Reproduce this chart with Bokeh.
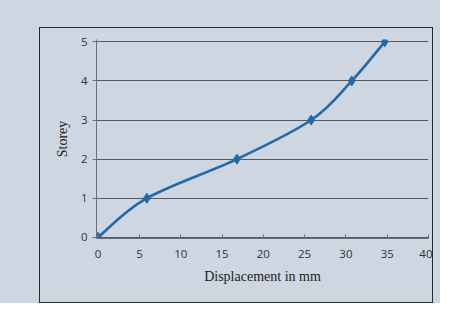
from bokeh.plotting import figure
from bokeh.models import Range1d, FixedTicker, Column, Row, Spacer
from bokeh.embed import file_html
from bokeh.resources import INLINE

# data
displacement = [0, 5.9, 16.8, 25.8, 30.7, 34.7]
storey = [0, 1, 2, 3, 4, 5]
x_ticks = [0, 5, 10, 15, 20, 25, 30, 35, 40]
y_ticks = [0, 1, 2, 3, 4, 5]

BG = "#cdd6e1"
BLUE = "#2369a8"

p = figure(width=394, height=276, output_backend="svg", toolbar_location=None,
           x_range=Range1d(-0.2, 40), y_range=Range1d(-0.03, 5.06),
           min_border_left=56, min_border_right=6, min_border_top=11, min_border_bottom=66)
p.background_fill_color = BG
p.border_fill_color = BG
p.outline_line_color = None
p.styles = {"border": "1.5px solid #2a2a2a"}

# smoothed line (Catmull-Rom style Bezier segments, as the spreadsheet draws it)
n = len(displacement)
x0, y0, x1, y1, cx0, cy0, cx1, cy1 = [], [], [], [], [], [], [], []
for i in range(n - 1):
    xa, ya = displacement[i], storey[i]
    xb, yb = displacement[i + 1], storey[i + 1]
    xp, yp = (displacement[i - 1], storey[i - 1]) if i > 0 else (xa, ya)
    xn, yn = (displacement[i + 2], storey[i + 2]) if i + 2 < n else (xb, yb)
    x0.append(xa); y0.append(ya); x1.append(xb); y1.append(yb)
    cx0.append(xa + (xb - xp) / 6); cy0.append(ya + (yb - yp) / 6)
    cx1.append(xb - (xn - xa) / 6); cy1.append(yb - (yn - ya) / 6)
p.bezier(x0=x0, y0=y0, x1=x1, y1=y1, cx0=cx0, cy0=cy0, cx1=cx1, cy1=cy1,
         line_color=BLUE, line_width=2.6)
p.scatter(displacement, storey, marker="diamond", size=10, fill_color=BLUE, line_color=BLUE)

p.xaxis.ticker = FixedTicker(ticks=x_ticks)
p.yaxis.ticker = FixedTicker(ticks=y_ticks)
p.xgrid.grid_line_color = None
p.ygrid.grid_line_color = "#555a60"
p.ygrid.grid_line_width = 1

for ax in (p.xaxis, p.yaxis):
    ax.axis_line_color = "#6a6f75"
    ax.major_tick_line_color = "#6a6f75"
    ax.minor_tick_line_color = None
    ax.major_label_text_font = "Open Sans"
    ax.major_label_text_font_size = "11.5px"
    ax.major_label_text_color = "#333333"
    ax.axis_label_text_font = "Liberation Serif"
    ax.axis_label_text_font_style = "normal"
    ax.axis_label_text_font_size = "14px"
    ax.axis_label_text_color = "#222222"
p.xaxis.major_tick_in = 4
p.xaxis.major_tick_out = 0
p.yaxis.major_tick_in = 0
p.yaxis.major_tick_out = 4
p.xaxis.axis_label = "Displacement in mm"
p.yaxis.axis_label = "Storey"
p.xaxis.major_label_standoff = 11
p.xaxis.axis_label_standoff = 8
p.yaxis.major_label_standoff = 5
p.yaxis.axis_label_standoff = 8

inner = Row(Spacer(width=39, height=276), p)
layout = Column(Spacer(width=440, height=27), inner, width=440, height=303,
                styles={"background-color": BG})

open("out.html", "w").write(file_html(layout, INLINE))
